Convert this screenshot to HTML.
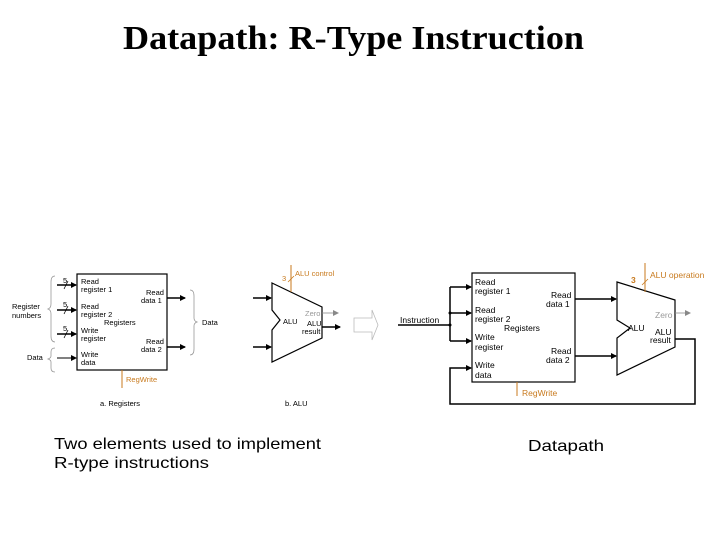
<!DOCTYPE html>
<html><head><style>
body{margin:0;width:720px;height:540px;background:#fff;overflow:hidden}
svg{display:block}
</style></head><body>
<svg width="720" height="540" xmlns="http://www.w3.org/2000/svg" font-family="Liberation Sans, sans-serif">
<defs>
<marker id="a" markerWidth="6" markerHeight="6" refX="5" refY="3" orient="auto" markerUnits="userSpaceOnUse"><path d="M0,0L6,3L0,6z" fill="#000"/></marker>
<marker id="g" markerWidth="6" markerHeight="6" refX="5" refY="3" orient="auto" markerUnits="userSpaceOnUse"><path d="M0,0L6,3L0,6z" fill="#888"/></marker>
</defs>
<text x="123" y="49" textLength="461" lengthAdjust="spacingAndGlyphs" font-family="Liberation Serif, serif" font-weight="bold" font-size="34">Datapath: R-Type Instruction</text>

<!-- Left registers -->
<rect x="77" y="274" width="90" height="96" fill="#fff" stroke="#000" stroke-width="1.2"/>
<g font-size="7.5" fill="#000">
<text x="81" y="284">Read</text><text x="81" y="292">register 1</text>
<text x="81" y="309">Read</text><text x="81" y="317">register 2</text>
<text x="104" y="325">Registers</text>
<text x="81" y="333">Write</text><text x="81" y="341">register</text>
<text x="81" y="357">Write</text><text x="81" y="365">data</text>
<text x="146" y="295">Read</text><text x="141" y="303">data 1</text>
<text x="146" y="344">Read</text><text x="141" y="352">data 2</text>
<text x="12" y="309">Register</text><text x="12" y="318">numbers</text>
<text x="27" y="360">Data</text>
<text x="202" y="325">Data</text>
<text x="100" y="406">a. Registers</text>
<text x="285" y="406">b. ALU</text>
<text x="63" y="283">5</text><text x="63" y="307">5</text><text x="63" y="331">5</text>
</g>
<g stroke="#000" stroke-width="1.5">
<line x1="57" y1="285" x2="76" y2="285" marker-end="url(#a)"/>
<line x1="57" y1="310" x2="76" y2="310" marker-end="url(#a)"/>
<line x1="57" y1="334" x2="76" y2="334" marker-end="url(#a)"/>
<line x1="57" y1="358" x2="76" y2="358" stroke-width="1" marker-end="url(#a)"/>
<line x1="167" y1="298" x2="185" y2="298" marker-end="url(#a)"/>
<line x1="167" y1="347" x2="185" y2="347" marker-end="url(#a)"/>
</g>
<g stroke="#000" stroke-width="0.8">
<line x1="64" y1="289" x2="68" y2="281"/><line x1="64" y1="314" x2="68" y2="306"/><line x1="64" y1="338" x2="68" y2="330"/>
</g>
<g fill="none" stroke="#999" stroke-width="0.8">
<path d="M55,276 Q51,276 51,282 L51,304 Q51,308 48,309 Q51,310 51,314 L51,336 Q51,342 55,342"/>
<path d="M55,348 Q51,348 51,352 L51,356 Q51,358 48,359 Q51,360 51,362 L51,368 Q51,372 55,372"/>
<path d="M190,290 Q194,290 194,296 L194,318 Q194,321 197,322 Q194,323 194,326 L194,349 Q194,355 190,355"/>
</g>
<line x1="122" y1="370" x2="122" y2="388" stroke="#c87a1e" stroke-width="1"/>
<text x="126" y="382" font-size="7.5" fill="#c87a1e">RegWrite</text>

<!-- Left ALU -->
<path d="M272,283 L322,307 L322,338 L272,362 L272,330 L280,320 L272,310 Z" fill="#fff" stroke="#000" stroke-width="1.2"/>
<g stroke="#000" stroke-width="1.5">
<line x1="253" y1="298" x2="271" y2="298" marker-end="url(#a)"/>
<line x1="253" y1="347" x2="271" y2="347" marker-end="url(#a)"/>
<line x1="322" y1="327" x2="340" y2="327" marker-end="url(#a)"/>
</g>
<line x1="322" y1="313" x2="338" y2="313" stroke="#888" stroke-width="0.8" marker-end="url(#g)"/>
<line x1="291" y1="265" x2="291" y2="292" stroke="#c87a1e" stroke-width="1"/>
<line x1="288" y1="282" x2="294" y2="276" stroke="#c87a1e" stroke-width="0.8"/>
<g font-size="7.5">
<text x="282" y="281" fill="#c87a1e">3</text>
<text x="295" y="276" fill="#c87a1e">ALU control</text>
<text x="283" y="324">ALU</text>
<text x="305" y="316" fill="#999">Zero</text>
<text x="307" y="326">ALU</text><text x="302" y="334">result</text>
</g>

<!-- hollow arrow -->
<path d="M354,318 L372,318 L372,310 L378,325 L372,340 L372,332 L354,332 Z" fill="none" stroke="#bbb" stroke-width="0.8"/>

<!-- Right datapath -->
<rect x="472" y="273" width="103" height="109" fill="#fff" stroke="#000" stroke-width="1.2"/>
<path d="M617,282 L675,300 L675,347 L617,375 L617,338 L630,328 L617,320 Z" fill="#fff" stroke="#000" stroke-width="1.2"/>
<g stroke="#000" stroke-width="1.5" fill="none">
<line x1="398" y1="325" x2="450" y2="325"/>
<line x1="450" y1="287" x2="450" y2="341"/>
<line x1="450" y1="287" x2="471" y2="287" marker-end="url(#a)"/>
<line x1="450" y1="313" x2="471" y2="313" marker-end="url(#a)"/>
<line x1="450" y1="341" x2="471" y2="341" marker-end="url(#a)"/>
<polyline points="675,339 695,339 695,404 450,404 450,368 471,368" marker-end="url(#a)"/>
<line x1="575" y1="299" x2="616" y2="299" marker-end="url(#a)"/>
<line x1="575" y1="356" x2="616" y2="356" marker-end="url(#a)"/>
</g>
<circle cx="450" cy="313" r="1.5"/><circle cx="450" cy="325" r="1.5"/>
<line x1="675" y1="313" x2="690" y2="313" stroke="#888" stroke-width="0.8" marker-end="url(#g)"/>
<line x1="645" y1="263" x2="645" y2="292" stroke="#c87a1e" stroke-width="1"/>
<line x1="642" y1="285" x2="648" y2="279" stroke="#c87a1e" stroke-width="0.8"/>
<line x1="517" y1="382" x2="517" y2="396" stroke="#c87a1e" stroke-width="1"/>
<g font-size="8.5">
<text x="400" y="323">Instruction</text>
<text x="475" y="285">Read</text><text x="475" y="294">register 1</text>
<text x="475" y="313">Read</text><text x="475" y="322">register 2</text>
<text x="504" y="331">Registers</text>
<text x="475" y="340">Write</text><text x="475" y="350">register</text>
<text x="475" y="368">Write</text><text x="475" y="378">data</text>
<text x="551" y="298">Read</text><text x="546" y="307">data 1</text>
<text x="551" y="354">Read</text><text x="546" y="363">data 2</text>
<text x="628" y="331">ALU</text>
<text x="655" y="318" fill="#999">Zero</text>
<text x="655" y="335">ALU</text><text x="650" y="343">result</text>
<text x="631" y="283" fill="#c87a1e" font-weight="bold">3</text>
<text x="650" y="278" fill="#c87a1e">ALU operation</text>
<text x="522" y="396" fill="#c87a1e">RegWrite</text>
</g>

<g font-size="16" fill="#000">
<text x="54" y="449" textLength="267" lengthAdjust="spacingAndGlyphs">Two elements used to implement</text>
<text x="54" y="468" textLength="155" lengthAdjust="spacingAndGlyphs">R-type instructions</text>
<text x="528" y="451" textLength="76" lengthAdjust="spacingAndGlyphs">Datapath</text>
</g>
</svg>
</body></html>
